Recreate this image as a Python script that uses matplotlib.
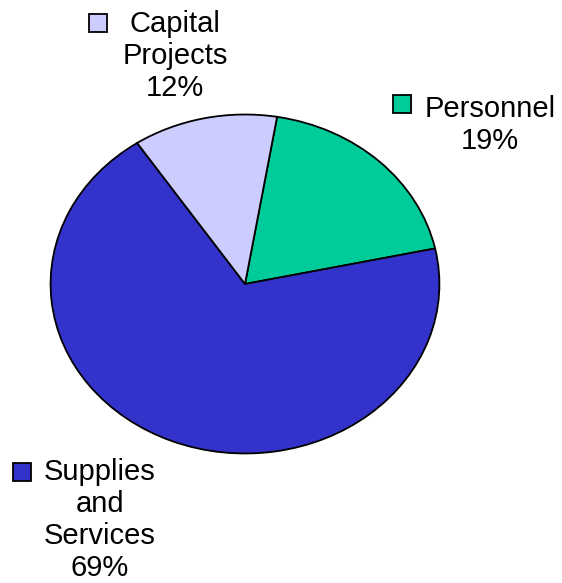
import matplotlib
import matplotlib.pyplot as plt
from matplotlib.patches import Rectangle
matplotlib.use('Agg')

# Budget shares by category (percent)
categories = ["Personnel", "Supplies\nand\nServices", "Capital\nProjects"]
shares = [19, 69, 12]
colors = ['#00CC99', '#3333CC', '#CCCCFF']

W, H = 562, 583
fig = plt.figure(figsize=(W / 100, H / 100), dpi=100)
plt.rcParams['font.family'] = ['Liberation Sans', 'DejaVu Sans']

# pie drawn in an axes with free aspect, so it comes out slightly flattened
ax = fig.add_axes([50 / W, 1 - 454 / H, 390 / W, 340 / H])
ax.pie(shares, colors=colors, startangle=80.5, counterclock=False,
       wedgeprops=dict(edgecolor='black', linewidth=1.3))
ax.set_xlim(-1.003, 1.003)
ax.set_ylim(-1.003, 1.003)
ax.set_aspect('auto')
ax.axis('off')

# label blocks: (text centre x, top y, key x, key y) in pixels
label_pos = [(490, 95, 393, 95), (100, 458, 13, 463), (175, 10, 89, 14)]
for name, val, col, (tx, ty, kx, ky) in zip(categories, shares, colors, label_pos):
    fig.text(tx / W, 1 - ty / H, f"{name}\n{val}%", ha='center', va='top',
             fontsize=21, linespacing=1.18)
    fig.patches.append(Rectangle((kx / W, 1 - (ky + 18) / H), 18 / W, 18 / H,
                                 transform=fig.transFigure, facecolor=col,
                                 edgecolor='black', linewidth=1.3))

fig.savefig('out.png', dpi=100)
